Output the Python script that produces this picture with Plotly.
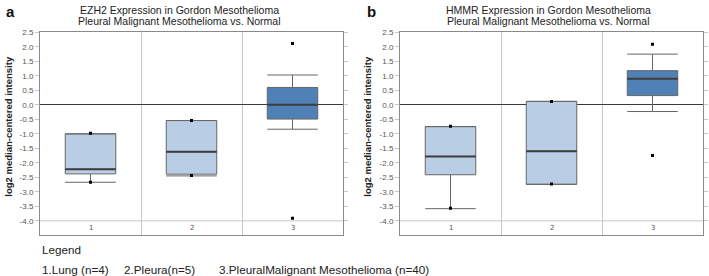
import plotly.graph_objects as go

# ---------------- data ----------------
categories = [1, 2, 3]
category_labels = ["1", "2", "3"]

# Panel a: EZH2
ezh2_q1 = [-2.38, -2.39, -0.49]
ezh2_median = [-2.22, -1.62, 0.0]
ezh2_q3 = [-1.00, -0.54, 0.60]
ezh2_lower = [-2.67, -2.45, -0.84]
ezh2_upper = [-1.00, -0.54, 1.03]
ezh2_min = [-2.67, -2.44, -3.91]
ezh2_max = [-0.98, -0.54, 2.12]

# Panel b: HMMR
hmmr_q1 = [-2.41, -2.74, 0.32]
hmmr_median = [-1.78, -1.60, 0.90]
hmmr_q3 = [-0.75, 0.12, 1.18]
hmmr_lower = [-3.58, -2.74, -0.23]
hmmr_upper = [-0.75, 0.12, 1.75]
hmmr_min = [-3.57, -2.73, -1.75]
hmmr_max = [-0.74, 0.12, 2.09]

tick_vals = [2.5, 2.0, 1.5, 1.0, 0.5, 0.0, -0.5, -1.0, -1.5, -2.0, -2.5, -3.0, -3.5, -4.0]
tick_text = [f"{v:.1f}" for v in tick_vals]

titles_a = ["EZH2 Expression in Gordon Mesothelioma", "Pleural Malignant Mesothelioma vs. Normal"]
titles_b = ["HMMR Expression in Gordon Mesothelioma", "Pleural Malignant Mesothelioma vs. Normal"]
legend_items = ["1.Lung (n=4)", "2.Pleura(n=5)", "3.PleuralMalignant Mesothelioma (n=40)"]

# ---------------- style ----------------
W, H = 709, 276
box_colors = ["#b9cee4", "#b9cee4", "#4f80b6"]
box_line = "#666666"
median_color = "#3d3d3d"
BOX_W = 0.5

fig = go.Figure()


def add_panel(xa, ya, q1, med, q3, lo, hi, mn, mx):
    for i, c in enumerate(categories):
        fig.add_trace(go.Box(
            x=[c], q1=[q1[i]], median=[med[i]], q3=[q3[i]],
            lowerfence=[lo[i]], upperfence=[hi[i]],
            width=BOX_W, whiskerwidth=1,
            fillcolor=box_colors[i],
            line=dict(color=box_line, width=1),
            boxpoints=False, showlegend=False,
            xaxis=xa, yaxis=ya, hoverinfo="skip",
        ))
        # darker median line overlay
        fig.add_trace(go.Scatter(
            x=[c - BOX_W / 2, c + BOX_W / 2], y=[med[i], med[i]],
            mode="lines", line=dict(color=median_color, width=2),
            showlegend=False, xaxis=xa, yaxis=ya, hoverinfo="skip",
        ))
    fig.add_trace(go.Scatter(
        x=categories + categories, y=mx + mn, mode="markers",
        marker=dict(color="black", size=3, symbol="square"),
        showlegend=False, xaxis=xa, yaxis=ya, hoverinfo="skip",
    ))


add_panel("x", "y", ezh2_q1, ezh2_median, ezh2_q3, ezh2_lower, ezh2_upper, ezh2_min, ezh2_max)
add_panel("x2", "y2", hmmr_q1, hmmr_median, hmmr_q3, hmmr_lower, hmmr_upper, hmmr_min, hmmr_max)

y_dom = [1 - 234 / H, 1 - 28.5 / H]
xa_dom = [40 / W, 343 / W]
xb_dom = [400 / W, 703 / W]

xaxis_common = dict(
    range=[0.5, 3.5], tickvals=[1.5, 2.5], ticktext=["", ""],
    showgrid=True, gridcolor="#c8c8c8", gridwidth=1,
    showline=True, linecolor="#8a8a8a", linewidth=1, mirror=True,
    ticks="", zeroline=False, fixedrange=True,
)
yaxis_common = dict(
    range=[-4.475, 2.51], tickvals=tick_vals, ticktext=tick_text,
    showgrid=False, zeroline=True, zerolinecolor="#3a3a3a", zerolinewidth=1,
    showline=True, linecolor="#8a8a8a", linewidth=1, mirror="ticks",
    ticks="outside", ticklen=4, tickcolor="#c8c8c8",
    tickfont=dict(family="Liberation Sans, Arial", size=8, color="#555555"),
)

fig.update_layout(
    width=W, height=H,
    margin=dict(l=0, r=0, t=0, b=0),
    paper_bgcolor="white", plot_bgcolor="white",
    xaxis=dict(domain=xa_dom, anchor="y", **xaxis_common),
    yaxis=dict(domain=y_dom, anchor="x", **yaxis_common),
    xaxis2=dict(domain=xb_dom, anchor="y2", **xaxis_common),
    yaxis2=dict(domain=y_dom, anchor="x2", **yaxis_common),
)

# line at -4.0 separating category labels
for xr, yr in [("x", "y"), ("x2", "y2")]:
    fig.add_shape(type="line", xref=f"{xr} domain", yref=yr, x0=0, x1=1,
                  y0=tick_vals[-1], y1=tick_vals[-1],
                  line=dict(color="#c8c8c8", width=1), layer="below")
    for c, lab in zip(categories, category_labels):
        fig.add_annotation(x=c, y=-4.25, xref=xr, yref=yr, text=lab, showarrow=False,
                           font=dict(family="DejaVu Sans", size=7, color="#555555"),
                           xanchor="center", yanchor="middle")

title_font = dict(family="Liberation Sans, Arial", size=10.5, color="#222222")
for titles, cx in [(titles_a, 179 / W), (titles_b, 548 / W)]:
    fig.add_annotation(x=cx, y=1 - 6 / H, xref="paper", yref="paper", text=titles[0],
                       showarrow=False, font=title_font, xanchor="center", yanchor="middle")
    fig.add_annotation(x=cx, y=1 - 17.5 / H, xref="paper", yref="paper", text=titles[1],
                       showarrow=False, font=title_font, xanchor="center", yanchor="middle")

# panel letters
for lab, px in [("a", 10), ("b", 371)]:
    fig.add_annotation(x=px / W, y=1 - 8 / H, xref="paper", yref="paper", text=f"<b>{lab}</b>",
                       showarrow=False, font=dict(family="Liberation Sans, Arial", size=15, color="#111111"),
                       xanchor="center", yanchor="middle")

# y-axis titles
for px in [9, 368]:
    fig.add_annotation(x=px / W, y=1 - 124.5 / H, xref="paper", yref="paper",
                       text="<b>log2 median-centered intensity</b>", textangle=-90, showarrow=False,
                       font=dict(family="Liberation Sans, Arial", size=9.5, color="#222222"),
                       xanchor="center", yanchor="middle")

# legend text
leg_font = dict(family="Liberation Sans, Arial", size=11.7, color="#222222")
fig.add_annotation(x=40 / W, y=1 - 249 / H, xref="paper", yref="paper", text="Legend",
                   showarrow=False, font=leg_font, xanchor="left", yanchor="middle")
for txt, px in zip(legend_items, [40, 122, 217]):
    fig.add_annotation(x=px / W, y=1 - 269 / H, xref="paper", yref="paper", text=txt,
                       showarrow=False, font=leg_font, xanchor="left", yanchor="middle")

fig.write_html("out.html", config={"displayModeBar": False},
               post_script="document.body.style.margin='0';")
